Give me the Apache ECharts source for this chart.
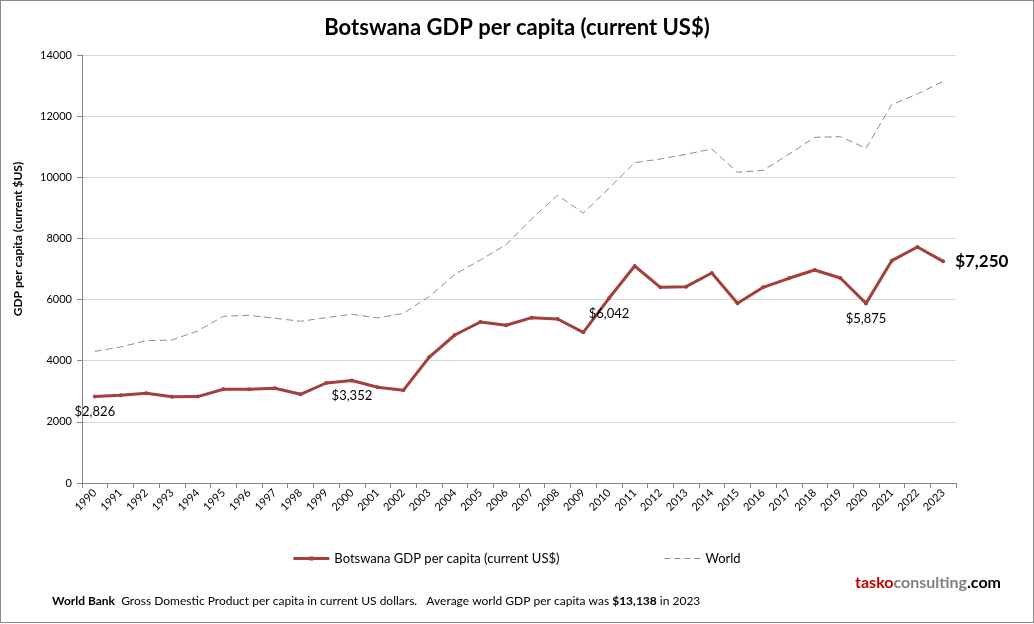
<!DOCTYPE html>
<html>
<head>
<meta charset="utf-8">
<title>Botswana GDP per capita</title>
<script src="https://cdn.jsdelivr.net/npm/echarts@6/dist/echarts.min.js"></script>
<style>
  html, body { margin: 0; padding: 0; background: #fff; }
  #chart { width: 1032px; height: 621px; border: 1px solid #8a8a8a; }
</style>
</head>
<body>
<div id="chart"></div>
<script>
// years on the category axis
const years = ['1990','1991','1992','1993','1994','1995','1996','1997','1998','1999',
  '2000','2001','2002','2003','2004','2005','2006','2007','2008','2009',
  '2010','2011','2012','2013','2014','2015','2016','2017','2018','2019',
  '2020','2021','2022','2023']

// Botswana GDP per capita (current US$)
const botswana = [2826, 2869, 2934, 2820, 2826, 3065, 3065, 3098, 2901, 3271,
  3352, 3130, 3032, 4111, 4841, 5267, 5158, 5408, 5365, 4929,
  6042, 7098, 6401, 6423, 6870, 5878, 6401, 6696, 6968, 6706,
  5875, 7272, 7720, 7250]

// World GDP per capita (current US$)
const world = [4308, 4449, 4655, 4678, 4972, 5453, 5486, 5388, 5290, 5409,
  5518, 5398, 5551, 6094, 6827, 7295, 7796, 8650, 9411, 8832,
  9640, 10478, 10598, 10752, 10925, 10163, 10229, 10752, 11308, 11328,
  10949, 12376, 12726, 13138]

// years that get a value label, the last one is bigger
const labelYears = ['1990', '2000', '2010', '2020']
const lastYear = '2023'

const font = 'Lato, "Open Sans", sans-serif'
const red = '#a33f3d'
const grey = '#8c8c8c'

const fmt = v => '$' + v.toLocaleString('en-US')

// build the Botswana series data with labels on a few points
const botswanaData = botswana.map((v, i) => {
  const y = years[i]
  if (labelYears.includes(y)) {
    return {
      value: v,
      label: { show: true, position: 'bottom', distance: 7, formatter: fmt(v),
        color: '#000', fontSize: 13, fontFamily: font }
    }
  }
  if (y === lastYear) {
    return {
      value: v,
      label: { show: true, position: 'right', distance: 10, formatter: fmt(v),
        color: '#000', fontSize: 17, fontWeight: 'bold', fontFamily: font }
    }
  }
  return v
})

const chart = echarts.init(document.getElementById('chart'))

chart.setOption({
  animation: false,
  textStyle: { fontFamily: font },
  title: {
    text: 'Botswana GDP per capita (current US$)',
    left: 'center',
    top: 11,
    textStyle: { fontSize: 22, fontWeight: 'bold', color: '#000', fontFamily: font }
  },
  grid: { left: 81, right: 77, top: 54, bottom: 139 },
  legend: {
    bottom: 52,
    left: 'center',
    itemGap: 105,
    itemWidth: 36,
    itemHeight: 12,
    textStyle: { fontSize: 13, color: '#000', fontFamily: font },
    data: [
      { name: 'Botswana GDP per capita (current US$)',
        icon: 'path://M0,5 L36,5 L36,8 L0,8 Z M16,4.5 L20,4.5 L20,8.5 L16,8.5 Z' },
      { name: 'World',
        icon: 'path://M0,6 h6 v1 h-6 Z M10,6 h6 v1 h-6 Z M20,6 h6 v1 h-6 Z M30,6 h6 v1 h-6 Z',
        itemStyle: { color: grey } }
    ]
  },
  xAxis: {
    type: 'category',
    data: years,
    boundaryGap: true,
    axisLine: { lineStyle: { color: '#868686' } },
    axisTick: { show: true, length: 5, alignWithLabel: false, lineStyle: { color: '#868686' } },
    axisLabel: { rotate: 45, color: '#000', fontSize: 11, margin: 8, interval: 0 }
  },
  yAxis: {
    type: 'value',
    min: 0,
    max: 14000,
    interval: 2000,
    axisLine: { show: true, lineStyle: { color: '#868686' } },
    axisTick: { show: true, length: 5, lineStyle: { color: '#868686' } },
    axisLabel: { color: '#000', fontSize: 11, margin: 10, formatter: v => String(v) },
    splitLine: { lineStyle: { color: '#d9d9d9' } }
  },
  series: [
    {
      name: 'Botswana GDP per capita (current US$)',
      type: 'line',
      data: botswanaData,
      symbol: 'circle',
      symbolSize: 4,
      itemStyle: { color: red },
      lineStyle: { color: red, width: 3 },
      z: 3
    },
    {
      name: 'World',
      type: 'line',
      data: world,
      symbol: 'none',
      itemStyle: { color: grey },
      lineStyle: { color: grey, width: 1, type: [7, 4] },
      z: 2
    }
  ],
  graphic: [
    // y axis title sits a bit above the middle of the axis
    {
      type: 'text',
      x: 17,
      y: 238,
      rotation: Math.PI / 2,
      style: {
        text: 'GDP per capita (current $US)',
        fontSize: 12,
        fontWeight: 'bold',
        fill: '#000',
        fontFamily: font,
        align: 'center',
        verticalAlign: 'middle'
      }
    },
    {
      type: 'text',
      left: 51,
      top: 594,
      style: {
        text: '{b|World Bank}  Gross Domestic Product per capita in current US dollars.   Average world GDP per capita was {b|$13,138} in 2023',
        fontSize: 12,
        fill: '#000',
        fontFamily: font,
        rich: { b: { fontWeight: 'bold', fontSize: 12, fontFamily: font } }
      }
    },
    {
      type: 'text',
      right: 32,
      top: 574,
      style: {
        text: '{t|tasko}{c|consulting}{d|.com}',
        fontSize: 16,
        fontFamily: font,
        rich: {
          t: { fill: '#c00000', fontWeight: 'bold', fontSize: 16, fontFamily: font },
          c: { fill: '#808080', fontWeight: 'bold', fontSize: 16, fontFamily: font },
          d: { fill: '#000', fontWeight: 'bold', fontSize: 16, fontFamily: font }
        }
      }
    }
  ]
})
</script>
</body>
</html>
